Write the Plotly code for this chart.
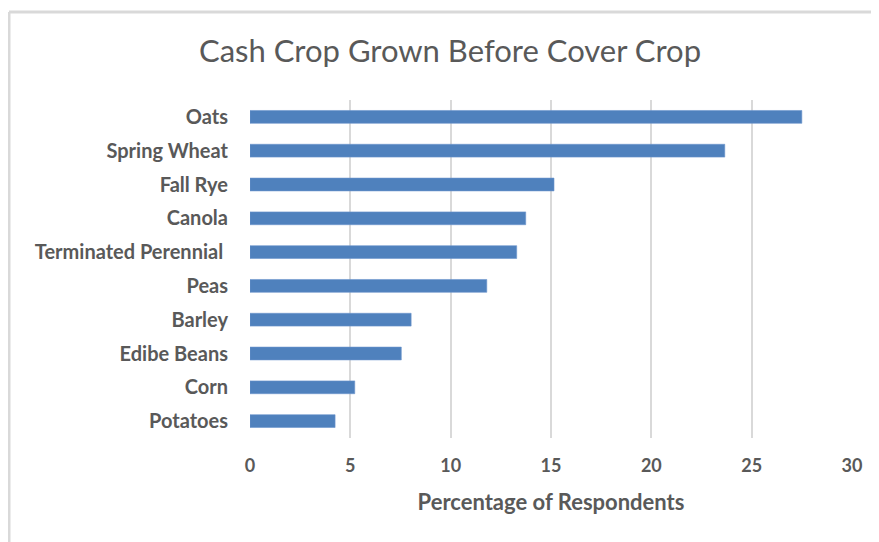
import plotly.graph_objects as go

crops = ["Oats", "Spring Wheat", "Fall Rye", "Canola", "Terminated Perennial ",
         "Peas", "Barley", "Edibe Beans", "Corn", "Potatoes"]
percent = [27.5, 23.66, 15.15, 13.74, 13.29, 11.8, 8.03, 7.54, 5.22, 4.24]
x_ticks = [0, 5, 10, 15, 20, 25, 30]

# page has an 8px body margin, so the figure is drawn at (8, 8)
W, H = 871, 534
L, R, T, B = 242, 27, 92, 104
pw, ph = W - L - R, H - T - B

fig = go.Figure(go.Bar(
    x=percent, y=crops, orientation="h",
    marker=dict(color="#4F81BD", line=dict(color="#6C96CC", width=0.6)),
))

grey = "#595959"
bx, by = 1, 4  # border position in figure pixels
fig.update_layout(
    width=W, height=H,
    margin=dict(l=L, r=R, t=T, b=B),
    paper_bgcolor="white", plot_bgcolor="white",
    bargap=0.62,
    showlegend=False,
    title=dict(text="Cash Crop Grown Before Cover Crop", x=(450 - 8) / W,
               xref="container", xanchor="center", y=1 - 43 / H, yref="container", yanchor="middle",
               font=dict(family="Lato", size=31, color=grey)),
    font=dict(family="Lato", color=grey),
    xaxis=dict(range=[0, 30], tickvals=x_ticks, showgrid=True, gridcolor="#D9D9D9", gridwidth=1.5,
               zeroline=False, showline=False, ticks="",
               tickfont=dict(family="Lato", size=18, color=grey, weight="bold"),
               ticklabelstandoff=15,
               title=dict(text="Percentage of Respondents", standoff=19,
                          font=dict(family="Lato", size=22, color=grey, weight="bold"))),
    yaxis=dict(categoryorder="array", categoryarray=crops[::-1], showgrid=False, zeroline=False,
               showline=False, ticks="", ticklabelstandoff=21,
               tickfont=dict(family="Lato", size=20, color=grey, weight="bold")),
    shapes=[
        dict(type="line", xref="paper", yref="paper",
             x0=(bx - L) / pw, x1=(bx - L) / pw, y0=1 + (T - by) / ph, y1=-(B + 5) / ph,
             line=dict(color="#D9D9D9", width=3)),
        dict(type="line", xref="paper", yref="paper",
             x0=(bx - L) / pw, x1=(W + 5 - L) / pw, y0=1 + (T - by) / ph, y1=1 + (T - by) / ph,
             line=dict(color="#D9D9D9", width=3)),
    ],
)

fig.write_html("out.html")
